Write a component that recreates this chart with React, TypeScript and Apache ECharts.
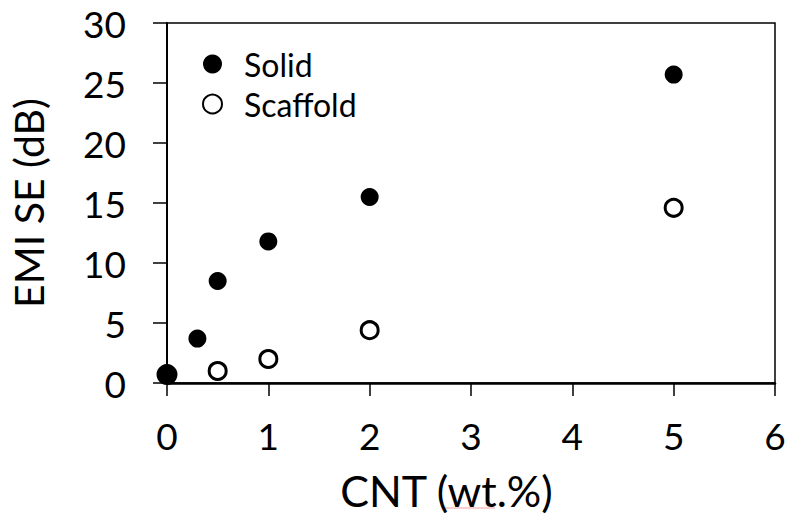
import React, { useEffect, useRef } from "react";
import * as echarts from "echarts";

const solidX = [0, 0.3, 0.5, 1, 2, 5];
const solidY = [0.7, 3.7, 8.5, 11.8, 15.5, 25.7];
const scaffoldX = [0.5, 1, 2, 5];
const scaffoldY = [1.0, 2.0, 4.4, 14.6];
const xTicks = [0, 1, 2, 3, 4, 5, 6];
const yTicks = [0, 5, 10, 15, 20, 25, 30];

const FONT = "Lato";

export default function App() {
  const ref = useRef<HTMLDivElement>(null);
  useEffect(() => {
    if (!ref.current) return;
    const chart = echarts.init(ref.current, undefined, { renderer: "svg" });
    const solidData = solidX.map((x, i) => [x, solidY[i]]);
    const scaffoldData = scaffoldX.map((x, i) => [x, scaffoldY[i]]);
    chart.setOption({
      animation: false,
      backgroundColor: "#ffffff",
      textStyle: { fontFamily: FONT },
      grid: {
        left: 167,
        right: 13,
        top: 23,
        bottom: 135,
        containLabel: false,
        outerBoundsMode: "none",
        show: true,
        borderColor: "#000",
        borderWidth: 1.5,
        backgroundColor: "transparent",
      },
      legend: {
        orient: "vertical",
        left: 202,
        top: 48,
        padding: 0,
        itemWidth: 19,
        itemHeight: 19,
        itemGap: 8,
        icon: "circle",
        textStyle: {
          fontFamily: FONT,
          fontSize: 32,
          lineHeight: 32,
          color: "#000",
          padding: [0, 0, 0, 17],
        },
        data: ["Solid", "Scaffold"],
      },
      xAxis: {
        type: "value",
        min: 0,
        max: 6,
        interval: 1,
        name: "CNT (wt.%)",
        nameLocation: "middle",
        nameGap: 86,
        nameTextStyle: {
          fontFamily: FONT,
          fontSize: 43,
          color: "#000",
          padding: [0, 49, 0, 0],
        },
        axisLine: { show: true, onZero: false, lineStyle: { color: "#000", width: 2.5 } },
        axisTick: { show: true, inside: false, length: 13, lineStyle: { color: "#000", width: 1.5 } },
        axisLabel: {
          fontFamily: FONT,
          fontSize: 37,
          color: "#000",
          margin: 34,
          formatter: (v: number) => (xTicks.includes(v) ? String(v) : ""),
        },
        splitLine: { show: false },
      },
      yAxis: {
        type: "value",
        min: 0,
        max: 30,
        interval: 5,
        name: "EMI SE (dB)",
        nameLocation: "middle",
        nameGap: 118,
        nameTextStyle: { fontFamily: FONT, fontSize: 41, color: "#000" },
        axisLine: { show: true, lineStyle: { color: "#000", width: 2 } },
        axisTick: { show: true, inside: false, length: 14, lineStyle: { color: "#000", width: 1.5 } },
        axisLabel: {
          fontFamily: FONT,
          fontSize: 37,
          color: "#000",
          margin: 41,
          formatter: (v: number) => (yTicks.includes(v) ? String(v) : ""),
        },
        splitLine: { show: false },
      },
      series: [
        {
          name: "Solid",
          type: "scatter",
          data: solidData,
          symbol: "circle",
          symbolSize: (_v: number[], p: any) => (p.dataIndex === 0 ? 21 : 18),
          itemStyle: { color: "#000", borderColor: "#000", borderWidth: 0, opacity: 1 },
          z: 3,
        },
        {
          name: "Scaffold",
          type: "scatter",
          data: scaffoldData,
          symbol: "circle",
          symbolSize: 17,
          itemStyle: { color: "#fff", borderColor: "#000", borderWidth: 3, opacity: 1 },
          z: 3,
        },
      ],
      graphic: [
        {
          type: "line",
          shape: { x1: 445, y1: 508, x2: 495, y2: 508 },
          style: { stroke: "#f4a0a0", lineWidth: 1.2 },
          silent: true,
        },
      ],
    });
    return () => chart.dispose();
  }, []);
  return (
    <div
      ref={ref}
      style={{ position: "absolute", left: 0, top: 0, width: 788, height: 518 }}
    />
  );
}
